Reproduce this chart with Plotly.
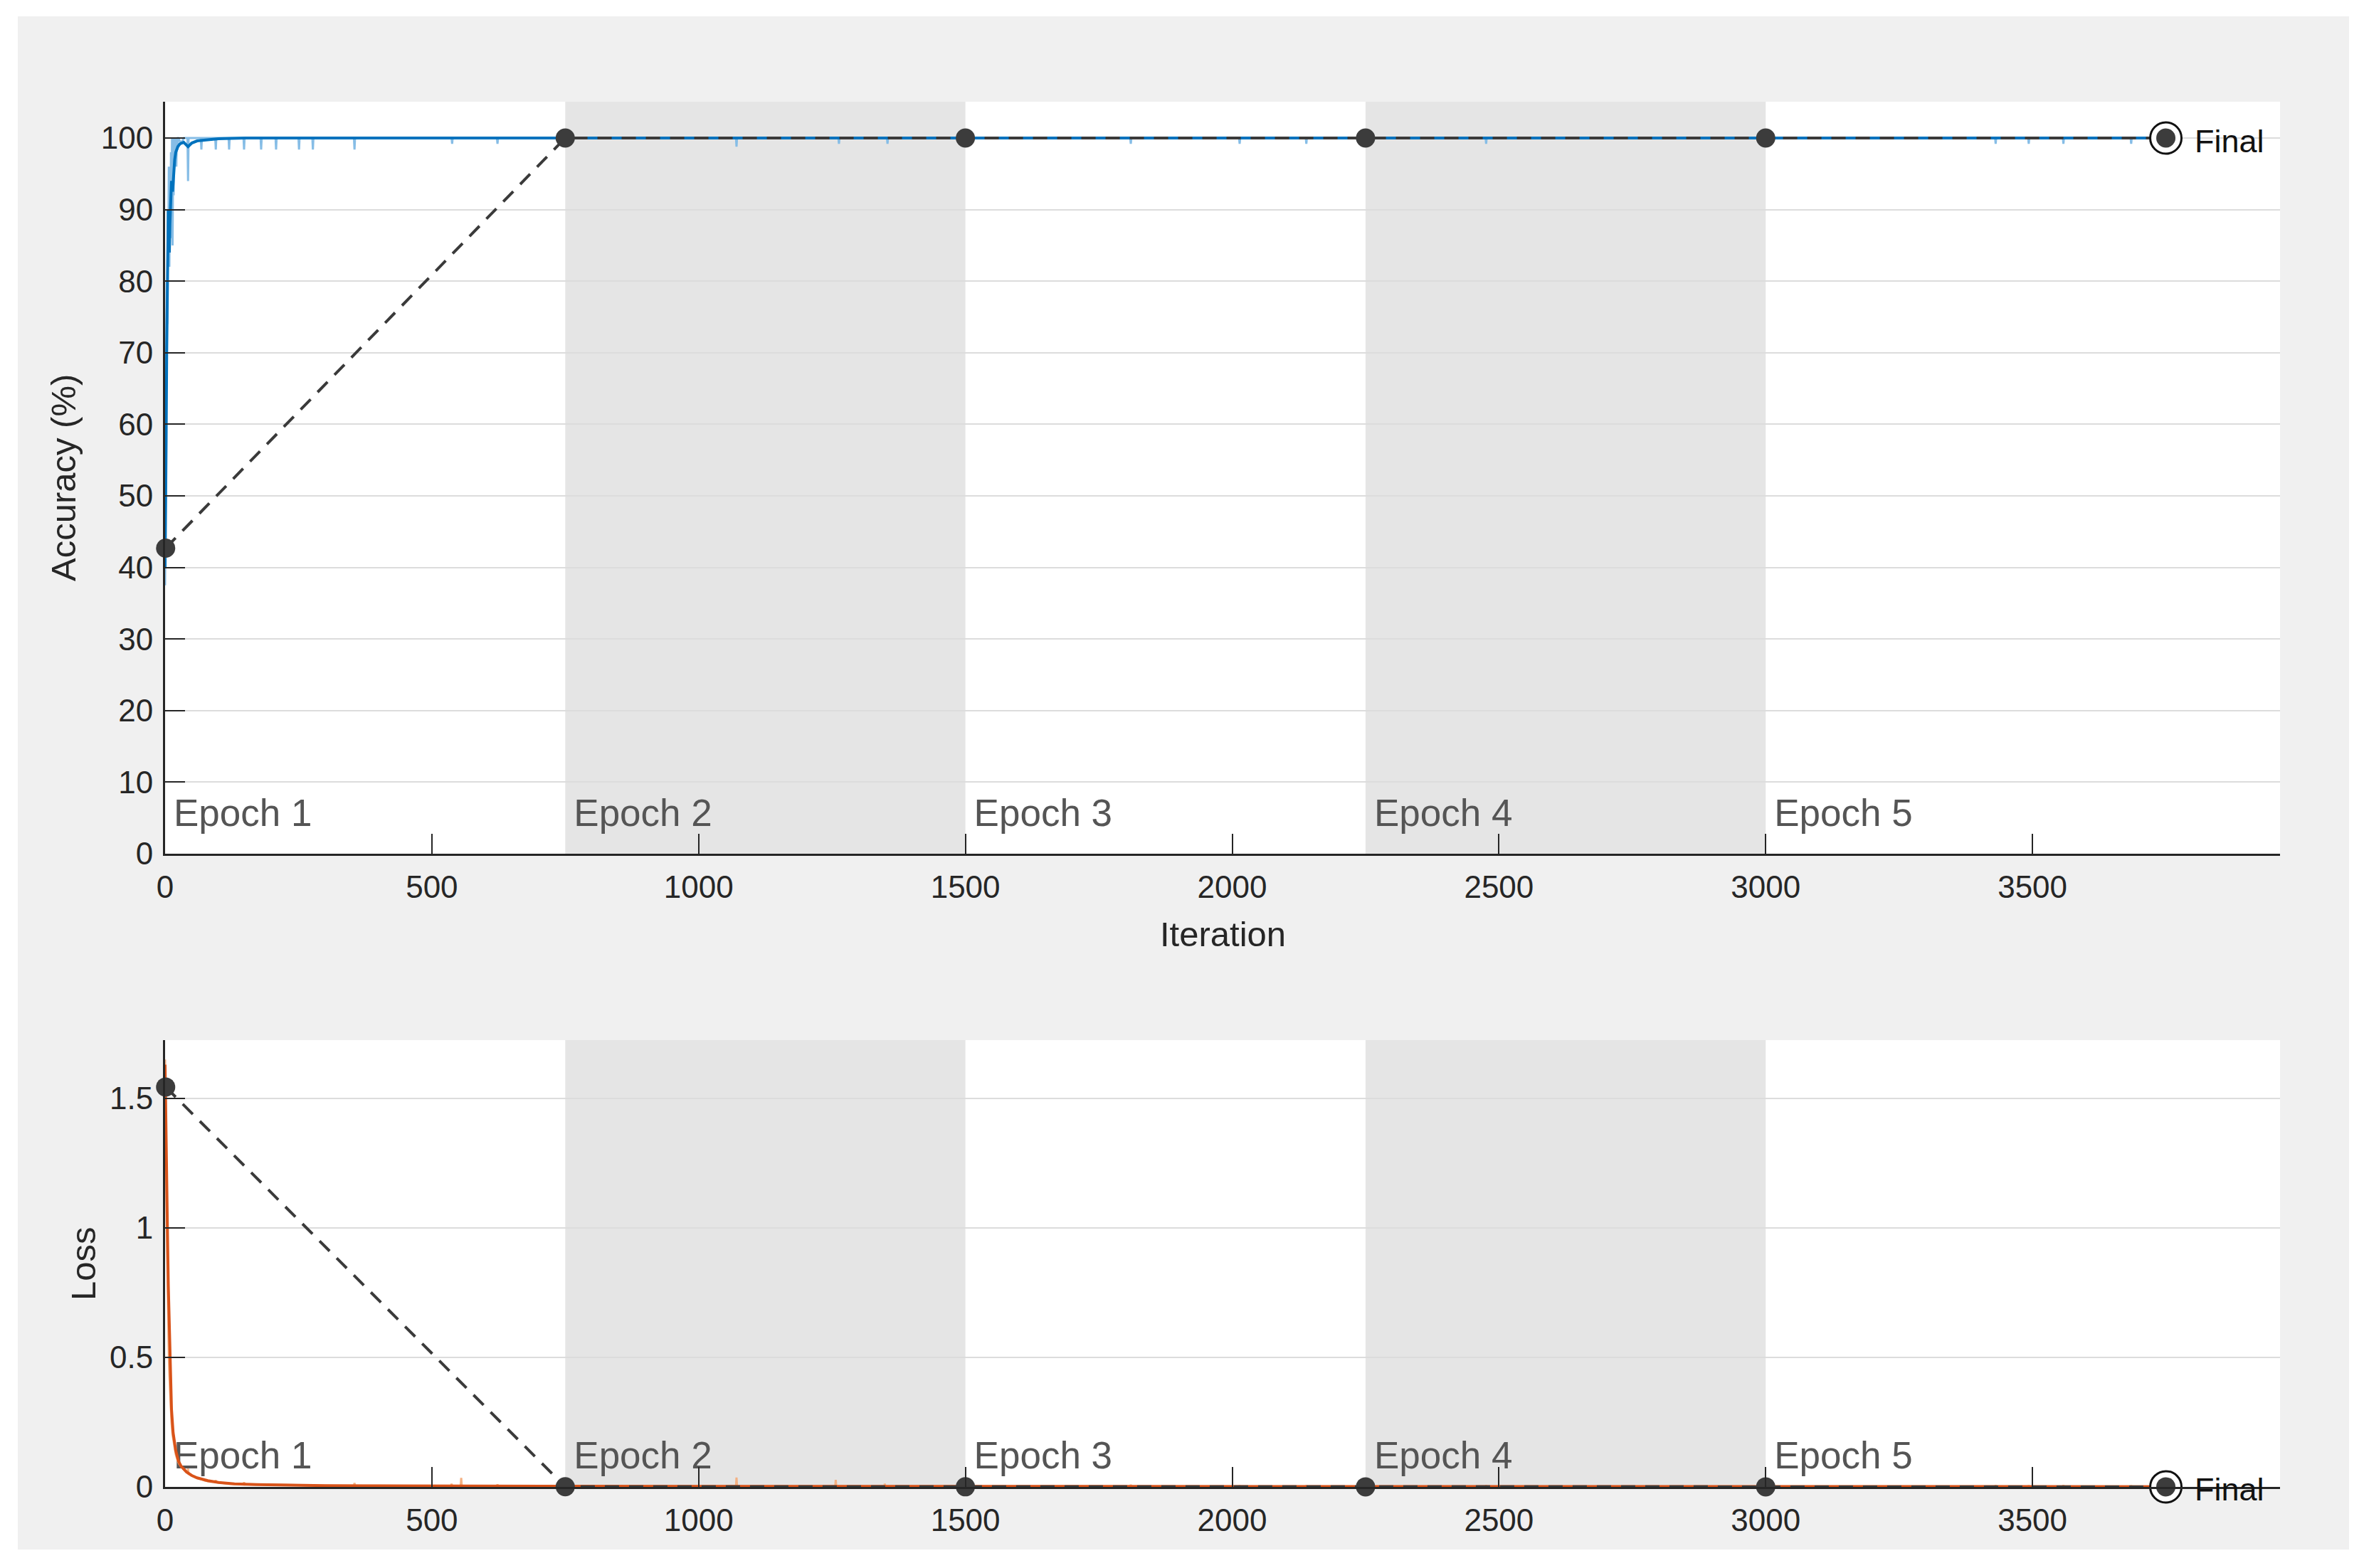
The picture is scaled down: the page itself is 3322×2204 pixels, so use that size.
import plotly.graph_objects as go

# ---------------- data ----------------
x_ticks = [0, 500, 1000, 1500, 2000, 2500, 3000, 3500]
acc_ticks = [0, 10, 20, 30, 40, 50, 60, 70, 80, 90, 100]
loss_ticks = [0, 0.5, 1, 1.5]
loss_ticktext = ["0", "0.5", "1", "1.5"]

epoch_starts = [0, 750, 1500, 2250, 3000]
epoch_names = ["Epoch 1", "Epoch 2", "Epoch 3", "Epoch 4", "Epoch 5"]
shaded_epochs = [(750, 1500), (2250, 3000)]

# training accuracy (raw, per iteration)
acc_raw_iter = [0, 1, 2, 3, 4, 5, 6, 7, 8, 9, 10, 11, 12, 13, 14, 15, 16, 17, 18, 19,
                20, 21, 22, 23, 24, 25, 30, 35, 42, 43, 44, 67, 68, 69, 94, 95, 96,
                119, 120, 121, 147, 148, 149, 179, 180, 181, 207, 208, 209, 250, 251, 252,
                276, 277, 278, 354, 355, 356, 537, 538, 539, 622, 623, 624,
                1070, 1071, 1072, 1262, 1263, 1264, 1353, 1354, 1355, 1809, 1810, 1811,
                2013, 2014, 2015, 2138, 2139, 2140, 2475, 2476, 2477, 3430, 3431, 3432,
                3492, 3493, 3494, 3557, 3558, 3559, 3684, 3685, 3686, 3750]
acc_raw_val = [37.5, 52, 66, 80, 74, 90, 84, 96, 82, 93, 86, 98, 90, 100, 85, 97, 92, 100, 96, 100,
               99.2, 96, 100, 98.4, 100, 100, 99.2, 100, 100, 94.0, 100, 100, 98.4, 100, 100, 98.4, 100,
               100, 98.4, 100, 100, 98.4, 100, 100, 98.4, 100, 100, 98.4, 100, 100, 98.4, 100,
               100, 98.4, 100, 100, 98.4, 100, 100, 99.2, 100, 100, 99.2, 100,
               100, 98.8, 100, 100, 99.2, 100, 100, 99.2, 100, 100, 99.2, 100,
               100, 99.2, 100, 100, 99.2, 100, 100, 99.2, 100, 100, 99.2, 100,
               100, 99.2, 100, 100, 99.2, 100, 100, 99.2, 100, 100]

# training accuracy (smoothed)
acc_smooth_iter = [0, 1, 2, 3, 4, 5, 6, 7, 8, 9, 10, 12, 14, 16, 18, 20, 24, 28, 35, 43, 50, 60, 80, 100, 150, 200, 3750]
acc_smooth_val = [40, 46, 58, 70, 80, 86, 90, 88, 84, 88, 91, 94, 92.5, 95, 97, 98, 98.8, 99.2, 99.4, 98.8,
                  99.3, 99.6, 99.8, 99.9, 100, 100, 100]

# training loss (raw)
loss_raw_iter = [0, 1, 2, 3, 4, 5, 6, 7, 8, 9, 10, 11, 12, 14, 16, 18, 20, 23, 26, 30, 35, 40, 42, 43, 44,
                 50, 55, 60, 68, 75, 85, 94, 95, 96, 105, 120, 135, 147, 148, 149, 160, 180, 200, 230, 260,
                 300, 354, 355, 356, 400, 450, 536, 537, 538, 554, 555, 556, 622, 623, 624, 700, 800, 900,
                 1000, 1070, 1071, 1072, 1150, 1256, 1257, 1258, 1348, 1349, 1350, 1450, 1600,
                 1809, 1810, 1811, 2013, 2014, 2015, 2138, 2139, 2140, 2300, 2475, 2476, 2477, 2700,
                 3000, 3200, 3430, 3431, 3432, 3492, 3493, 3494, 3557, 3558, 3559, 3684, 3685, 3686, 3750]
loss_raw_val = [1.65, 1.50, 1.28, 1.02, 0.86, 0.70, 0.60, 0.50, 0.43, 0.37, 0.32, 0.29, 0.25, 0.20,
                0.17, 0.145, 0.125, 0.105, 0.09, 0.078, 0.066, 0.057, 0.055, 0.07, 0.05, 0.045, 0.04, 0.034,
                0.03, 0.024, 0.02, 0.02, 0.026, 0.018, 0.015, 0.012, 0.011, 0.01, 0.018, 0.009, 0.01,
                0.009, 0.008, 0.007, 0.006, 0.005, 0.005, 0.015, 0.005, 0.004, 0.004, 0.004, 0.012, 0.004,
                0.004, 0.035, 0.004, 0.003, 0.01, 0.003, 0.003, 0.003, 0.003,
                0.003, 0.003, 0.036, 0.003, 0.002, 0.002, 0.027, 0.002, 0.002, 0.012, 0.002, 0.002, 0.002,
                0.002, 0.008, 0.002, 0.002, 0.006, 0.002, 0.002, 0.006, 0.002, 0.002, 0.002, 0.007, 0.002, 0.002,
                0.002, 0.002, 0.002, 0.007, 0.002, 0.002, 0.006, 0.002, 0.002, 0.007, 0.002, 0.002, 0.006, 0.002, 0.002]

# training loss (smoothed)
loss_smooth_iter = [0, 2, 4, 6, 8, 10, 12, 15, 20, 25, 30, 40, 50, 60, 80, 100, 130, 170, 220, 300, 400, 600, 1000, 3750]
loss_smooth_val = [1.63, 1.40, 1.05, 0.78, 0.58, 0.42, 0.30, 0.21, 0.14, 0.10, 0.08, 0.058, 0.044,
                   0.035, 0.024, 0.017, 0.012, 0.009, 0.007, 0.005, 0.004, 0.003, 0.002, 0.001]

# validation
val_iter = [1, 750, 1500, 2250, 3000, 3750]
val_acc = [42.7, 100, 100, 100, 100, 100]
val_loss = [1.544, 0.0006, 0.0004, 0.0003, 0.0003, 0.0003]

# ---------------- styling ----------------
FONT = "Liberation Sans, Arial, Helvetica, sans-serif"
AX = "#262626"
W, H = 3322, 2204
L, R, T, B = 232, 118, 143, 114
PW = W - L - R
PH = H - T - B
X_MAX = 3964
ACC_MAX = 105.07
LOSS_MAX = 1.725
PX_PER_ITER = PW / X_MAX

top_dom = [(2090 - 1200) / PH, 1.0]
bot_dom = [0.0, (2090 - 1462) / PH]
top_px = (1200 - 143) / ACC_MAX      # pixels per accuracy unit
bot_px = (2090 - 1462) / LOSS_MAX    # pixels per loss unit

fig = go.Figure()
final_annots = []

def add_panel(xa, ya, raw_x, raw_y, sm_x, sm_y, vx, vy, raw_col, sm_col, label_y):
    # epoch labels (under the curves)
    fig.add_trace(go.Scatter(
        x=[s + 12 / PX_PER_ITER for s in epoch_starts],
        y=[label_y] * len(epoch_starts),
        mode="text", text=epoch_names, textposition="middle right",
        textfont=dict(family=FONT, size=53, color="#555555"),
        xaxis=xa, yaxis=ya, showlegend=False, hoverinfo="skip", cliponaxis=False))
    fig.add_trace(go.Scatter(x=raw_x, y=raw_y, mode="lines",
                             line=dict(color=raw_col, width=3), xaxis=xa, yaxis=ya,
                             showlegend=False))
    fig.add_trace(go.Scatter(x=sm_x, y=sm_y, mode="lines",
                             line=dict(color=sm_col, width=4), xaxis=xa, yaxis=ya,
                             showlegend=False))
    fig.add_trace(go.Scatter(x=vx, y=vy, mode="lines",
                             line=dict(color="#3a3a3a", width=4, dash="20px,14px"),
                             xaxis=xa, yaxis=ya, showlegend=False))
    fig.add_trace(go.Scatter(x=vx[:-1], y=vy[:-1], mode="markers",
                             marker=dict(color="#3c3c3c", size=27, line=dict(width=0)),
                             xaxis=xa, yaxis=ya, showlegend=False, cliponaxis=False))
    fig.add_trace(go.Scatter(x=[vx[-1]], y=[vy[-1]], mode="markers",
                             marker=dict(color="white", size=44, line=dict(color="#111111", width=3)),
                             xaxis=xa, yaxis=ya, showlegend=False, cliponaxis=False))
    fig.add_trace(go.Scatter(x=[vx[-1]], y=[vy[-1]], mode="markers",
                             marker=dict(color="#3c3c3c", size=27, line=dict(width=0)),
                             xaxis=xa, yaxis=ya, showlegend=False, cliponaxis=False))
    final_annots.append(dict(text="Final", xref=xa, yref=ya, x=vx[-1], y=vy[-1],
                             xanchor="left", yanchor="middle", xshift=38, yshift=-4,
                             showarrow=False,
                             font=dict(family=FONT, size=45, color="#111111")))

add_panel("x", "y", acc_raw_iter, acc_raw_val, acc_smooth_iter, acc_smooth_val,
          val_iter, val_acc, "#86bde6", "#0072BD", 52 / top_px)
add_panel("x2", "y2", loss_raw_iter, loss_raw_val, loss_smooth_iter, loss_smooth_val,
          val_iter, val_loss, "#f4b183", "#D95319", 39 / bot_px)

shapes = []
for (a, b) in shaded_epochs:
    for xr, yr in (("x", "y domain"), ("x2", "y2 domain")):
        shapes.append(dict(type="rect", xref=xr, yref=yr, x0=a, x1=b, y0=0, y1=1,
                           fillcolor="#e5e5e5", line=dict(width=0), layer="below"))
# white frame around the grey figure area
gx0, gx1 = (25 - L) / PW, (3301 - L) / PW
gy0, gy1 = (2090 - 2178) / PH, (2090 - 23) / PH
for (x0, x1, y0, y1) in [(-1, gx0, -1, 2), (gx1, 2, -1, 2), (-1, 2, gy1, 2), (-1, 2, -1, gy0)]:
    shapes.append(dict(type="rect", xref="paper", yref="paper", x0=x0, x1=x1, y0=y0, y1=y1,
                       fillcolor="white", line=dict(width=0), layer="above"))

xcommon = dict(range=[0, X_MAX], tickvals=x_ticks, ticks="inside", ticklen=28, tickwidth=2,
               tickcolor=AX, showline=True, linecolor=AX, linewidth=3, showgrid=False,
               zeroline=False, tickfont=dict(family=FONT, size=44, color=AX), fixedrange=True,
               ticklabelstandoff=6)
ycommon = dict(ticks="inside", ticklen=28, tickwidth=2, tickcolor=AX, showline=True,
               linecolor=AX, linewidth=3, showgrid=True, gridcolor="#dcdcdc", gridwidth=2,
               zeroline=False, tickfont=dict(family=FONT, size=44, color=AX), fixedrange=True,
               ticklabelstandoff=5)

fig.update_layout(
    width=W, height=H, autosize=False,
    margin=dict(l=L, r=R, t=T, b=B, pad=0),
    paper_bgcolor="#f0f0f0", plot_bgcolor="white",
    showlegend=False,
    xaxis=dict(domain=[0, 1], anchor="y", **xcommon),
    yaxis=dict(domain=top_dom, anchor="x", range=[0, ACC_MAX], tickvals=acc_ticks, **ycommon),
    xaxis2=dict(domain=[0, 1], anchor="y2", **xcommon),
    yaxis2=dict(domain=bot_dom, anchor="x2", range=[0, LOSS_MAX], tickvals=loss_ticks,
                ticktext=loss_ticktext, **ycommon),
    shapes=shapes,
    annotations=final_annots + [
        dict(text="Iteration", xref="paper", yref="paper", x=0.5, y=(2090 - 1313) / PH,
             xanchor="center", yanchor="middle", showarrow=False,
             font=dict(family=FONT, size=49, color=AX)),
        dict(text="Accuracy (%)", xref="paper", yref="paper", x=(89 - L) / PW,
             y=(2090 - 672) / PH, xanchor="center", yanchor="middle", textangle=-90,
             showarrow=False, font=dict(family=FONT, size=49, color=AX)),
        dict(text="Loss", xref="paper", yref="paper", x=(117 - L) / PW,
             y=(2090 - 1776) / PH, xanchor="center", yanchor="middle", textangle=-90,
             showarrow=False, font=dict(family=FONT, size=49, color=AX)),
    ],
)

fig.write_html("out.html", config={"displayModeBar": False},
               post_script="document.body.style.margin='0';document.body.style.overflow='hidden';")
